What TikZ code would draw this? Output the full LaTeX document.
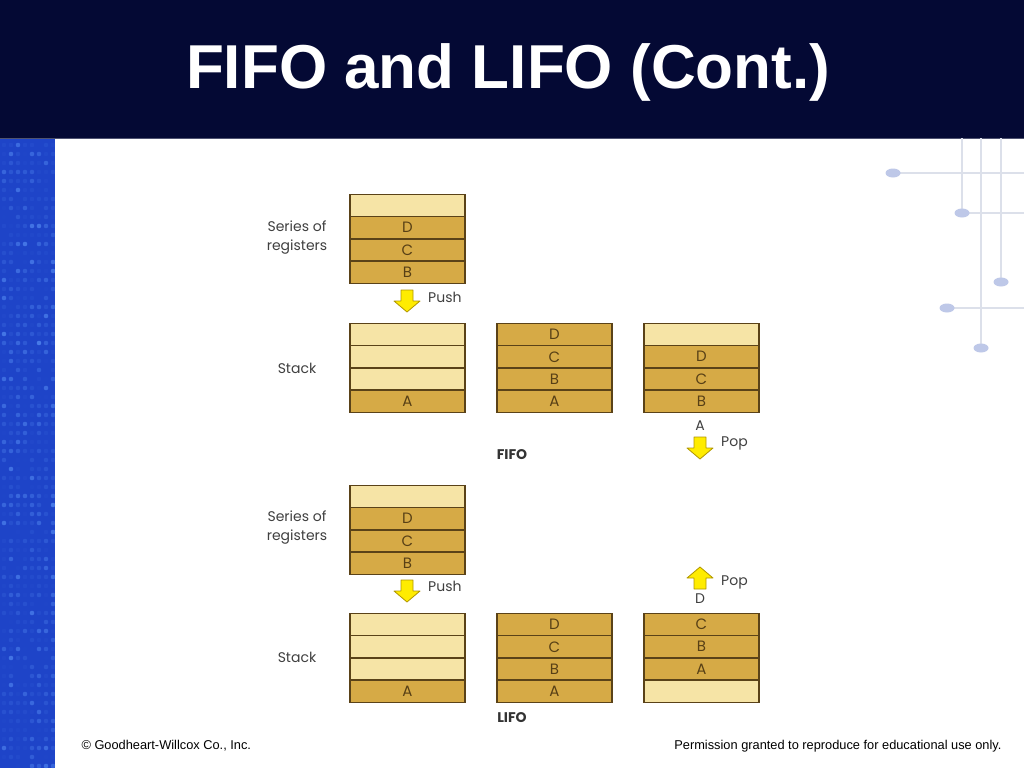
\documentclass[tikz,border=0pt]{standalone}
\usepackage{fontspec}
\setmainfont{Liberation Sans}
\newfontfamily\gothic{Poppins}
\usepackage{xcolor}
\definecolor{headnavy}{RGB}{4,9,52}
\definecolor{stripblue}{RGB}{30,68,200}
\definecolor{dotblue}{RGB}{100,160,255}
\definecolor{cellpale}{RGB}{246,228,166}
\definecolor{cellgold}{RGB}{214,170,70}
\definecolor{cellline}{RGB}{90,66,24}
\definecolor{celltext}{RGB}{88,64,22}
\definecolor{arrowfill}{RGB}{255,236,0}
\definecolor{arrowline}{RGB}{176,150,0}
\definecolor{wireline}{RGB}{220,224,234}
\definecolor{wiredot}{RGB}{190,200,232}
\usetikzlibrary{positioning}

\begin{document}
\begin{tikzpicture}[x=1pt,y=-1pt,
pale/.style={draw=cellline,line width=1.3pt,fill=cellpale,minimum width=115pt,minimum height=22.25pt,inner sep=0pt,outer sep=0pt,font=\gothic\fontsize{15}{15}\selectfont,text=celltext},
gold/.style={pale,fill=cellgold},
lab/.style={font=\gothic\fontsize{14}{19}\selectfont,text=black!75,align=center,inner sep=0pt},
title/.style={font=\gothic\bfseries\fontsize{14}{14}\selectfont,text=black!80,inner sep=0pt},
wire/.style={draw=wireline,line width=1.6pt},
yarrow/.pic={\draw[fill=arrowfill,draw=arrowline,line width=.8pt,line join=round]
  (-6,-11) -- (6,-11) -- (6,0) -- (13,0) -- (0,11) -- (-13,0) -- (-6,0) -- cycle;}]
\useasboundingbox (0,0) rectangle (1024,768);
% slide background
\fill[white] (0,0) rectangle (1024,768);
\fill[headnavy] (0,0) rectangle (1024,138);
\draw[headnavy!70!white,line width=.8pt] (0,138) -- (1024,138);
\fill[stripblue] (0,139) rectangle (55,768);
\pgfmathsetseed{7}
\foreach \i in {0,...,7}
  \foreach \j in {0,...,69}{
    \pgfmathsetmacro{\op}{0.6*rnd*rnd}
    \fill[dotblue,opacity=\op] (4+7*\i,145+9*\j) circle (2.3);
  }
\node[font=\bfseries\fontsize{62}{62}\selectfont,text=white] (head) at (508,72) {FIFO and LIFO (Cont.)};
% circuit wires on the right
\draw[wire] (962,138) -- (962,213);
\draw[wire] (981,138) -- (981,348);
\draw[wire] (1001,138) -- (1001,282);
\draw[wire] (893,173) -- (1024,173);
\draw[wire] (962,213) -- (1024,213);
\draw[wire] (947,308) -- (1024,308);
\foreach \p in {(893,173),(962,213),(1001,282),(947,308),(981,348)}
  \fill[wiredot] \p ellipse (7.5 and 4.5);
% FIFO
\node[pale] (fs0) at (407.5,205.5) {};
\node[gold,below=0pt of fs0] (fs1) {D};
\node[gold,below=0pt of fs1] (fs2) {C};
\node[gold,below=0pt of fs2] (fs3) {B};
\node[lab] (fser) at (297,238) {Series of\\registers};
\pic at (407,301) {yarrow};
\node[lab,anchor=west] (fpush) at (428,297) {Push};
\node[pale] (fa0) at (407.5,334.5) {};
\node[pale,below=0pt of fa0] (fa1) {};
\node[pale,below=0pt of fa1] (fa2) {};
\node[gold,below=0pt of fa2] (fa3) {A};
\node[lab] (fstk) at (297,368) {Stack};
\node[gold,right=32pt of fa0] (fb0) {D};
\node[gold,below=0pt of fb0] (fb1) {C};
\node[gold,below=0pt of fb1] (fb2) {B};
\node[gold,below=0pt of fb2] (fb3) {A};
\node[pale,right=32pt of fb0] (fc0) {};
\node[gold,below=0pt of fc0] (fc1) {D};
\node[gold,below=0pt of fc1] (fc2) {C};
\node[gold,below=0pt of fc2] (fc3) {B};
\node[lab] (fout) at (700,426) {A};
\pic at (700,448) {yarrow};
\node[lab,anchor=west] (fpop) at (721,443) {Pop};
\node[title] (fifo) at (512,455) {FIFO};
% LIFO
\node[pale] (ls0) at (407.5,496.5) {};
\node[gold,below=0pt of ls0] (ls1) {D};
\node[gold,below=0pt of ls1] (ls2) {C};
\node[gold,below=0pt of ls2] (ls3) {B};
\node[lab] (lser) at (297,528) {Series of\\registers};
\pic at (407,591) {yarrow};
\node[lab,anchor=west] (lpush) at (428,586) {Push};
\node[pale] (la0) at (407.5,624.5) {};
\node[pale,below=0pt of la0] (la1) {};
\node[pale,below=0pt of la1] (la2) {};
\node[gold,below=0pt of la2] (la3) {A};
\node[lab] (lstk) at (297,657) {Stack};
\node[gold,right=32pt of la0] (lb0) {D};
\node[gold,below=0pt of lb0] (lb1) {C};
\node[gold,below=0pt of lb1] (lb2) {B};
\node[gold,below=0pt of lb2] (lb3) {A};
\node[gold,right=32pt of lb0] (lc0) {C};
\node[gold,below=0pt of lc0] (lc1) {B};
\node[gold,below=0pt of lc1] (lc2) {A};
\node[pale,below=0pt of lc2] (lc3) {};
\pic[rotate=180] at (700,578) {yarrow};
\node[lab,anchor=west] (lpop) at (721,582) {Pop};
\node[lab] (lout) at (700,599) {D};
\node[title] (lifo) at (512,718) {LIFO};
% footer
\node[font=\fontsize{12.8}{13}\selectfont,anchor=west] (copy) at (78,746) {\textcopyright{} Goodheart-Willcox Co., Inc.};
\node[font=\fontsize{12.8}{13}\selectfont,anchor=east] (perm) at (1005,746) {Permission granted to reproduce for educational use only.};
\end{tikzpicture}
\end{document}
